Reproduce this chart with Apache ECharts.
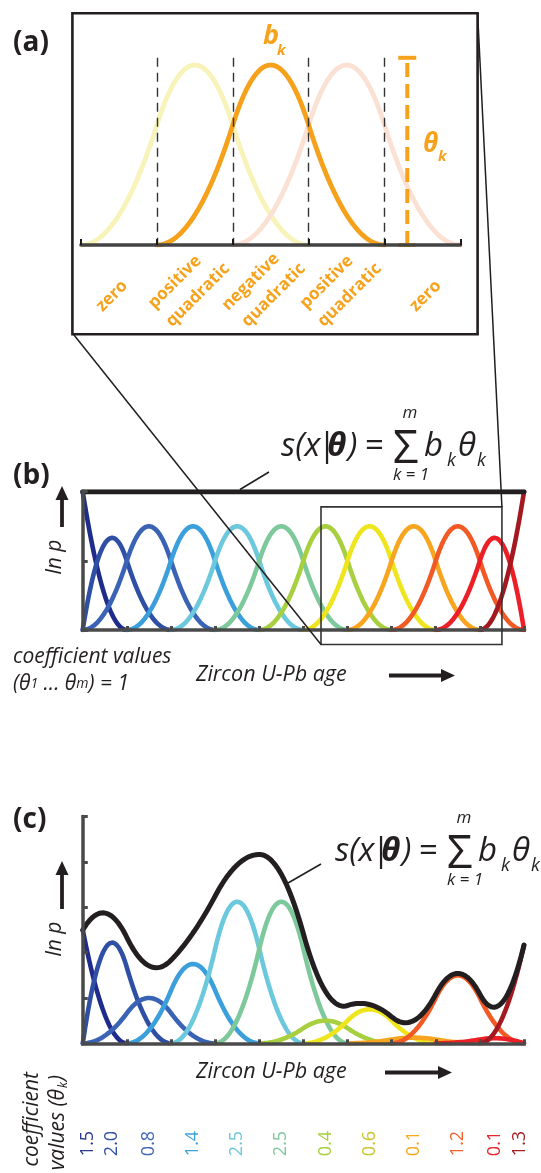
<!DOCTYPE html>
<html>
<head>
<meta charset="utf-8">
<script src="https://cdn.jsdelivr.net/npm/echarts@6/dist/echarts.min.js"></script>
<style>
html, body { margin: 0; padding: 0; background: #ffffff; }
#chart { width: 541px; height: 1173px; }
</style>
</head>
<body>
<div id="chart"></div>
<script>
// ---- data ---------------------------------------------------------------
// Knot positions along the age axis (10 equal intervals) and spline degree
const knotsAge = [0, 1, 2, 3, 4, 5, 6, 7, 8, 9, 10];
const splineDegree = 2;
// Detail view: one basis function and its two neighbours on uniform knots
const knotsDetail = [0, 1, 2, 3, 4, 5];
const segmentNames = [["zero"], ["positive", "quadratic"], ["negative", "quadratic"], ["positive", "quadratic"], ["zero"]];
// Coefficients: all equal to one (b), fitted values (c)
const thetaFlat = [1, 1, 1, 1, 1, 1, 1, 1, 1, 1, 1, 1];
const thetaFit = [1.5, 2.0, 0.8, 1.4, 2.5, 2.5, 0.4, 0.6, 0.1, 1.2, 0.1, 1.3];
const thetaLabels = ["1.5", "2.0", "0.8", "1.4", "2.5", "2.5", "0.4", "0.6", "0.1", "1.2", "0.1", "1.3"];
// Axis ranges / tick steps
const yTicksB = { max: 1, step: 0.5 };
const yTicksC = { max: 3, step: 0.6 };
// Height of the knot guides and the theta marker in the detail view
const guideHeight = 0.78;
const thetaMarkerAt = 4.3;

// ---- styles -------------------------------------------------------------
const basisColors = ["#1f2c8c", "#2f4fa4", "#3a63b6", "#3b9fdb", "#6cc8dc", "#7ec99b",
  "#a8cf40", "#efe51c", "#f7a51e", "#f15a24", "#ec1e26", "#a3191f"];
const labelColors = ["#2b3990", "#3150a0", "#3f66b3", "#3ea1da", "#6ec6dc", "#7fc89c",
  "#a6cf3d", "#c9c52a", "#f7a81f", "#f0642a", "#e8262c", "#a61e22"];
const detailColors = ["#f7f3b9", "#f6a11c", "#fbe1d3"];
const ORANGE = "#f6a21d";
const INK = "#231f20";
const AXIS = "#4a4a4a";
const FONT = "'Open Sans', 'Noto Sans', sans-serif";

// ---- B-spline basis (Cox-de Boor) --------------------------------------
function clamped(knots, p) {
  const a = knots[0], b = knots[knots.length - 1];
  return Array(p).fill(a).concat(knots, Array(p).fill(b));
}
function basis(t, i, p, x) {
  if (p === 0) {
    const last = t[t.length - 1];
    if (x === last) return (t[i] < x && t[i + 1] === last) ? 1 : 0;
    return (t[i] <= x && x < t[i + 1]) ? 1 : 0;
  }
  let v = 0;
  const d1 = t[i + p] - t[i], d2 = t[i + p + 1] - t[i + 1];
  if (d1 > 0) v += (x - t[i]) / d1 * basis(t, i, p - 1, x);
  if (d2 > 0) v += (t[i + p + 1] - x) / d2 * basis(t, i + 1, p - 1, x);
  return v;
}
function sampleGrid(lo, hi, n) {
  const xs = [];
  for (let j = 0; j <= n; j++) xs.push(lo + (hi - lo) * j / n);
  return xs;
}
// points of one weighted basis curve over its support
function basisCurve(t, i, p, xs, w) {
  return xs.filter(x => x >= t[i] && x <= t[i + p + 1]).map(x => [x, w * basis(t, i, p, x)]);
}
function sumCurve(t, p, xs, theta) {
  return xs.map(x => [x, theta.reduce((s, th, i) => s + th * basis(t, i, p, x), 0)]);
}

const tAge = clamped(knotsAge, splineDegree);
const xsAge = sampleGrid(knotsAge[0], knotsAge[knotsAge.length - 1], 800);
const tDet = knotsDetail;
const xsDet = sampleGrid(knotsDetail[0], knotsDetail[knotsDetail.length - 1], 500);

// ---- series -------------------------------------------------------------
const series = [];
function lineSeries(data, color, width, gi, z) {
  return { type: "line", data, xAxisIndex: gi, yAxisIndex: gi, showSymbol: false, symbol: "none",
    lineStyle: { color, width, cap: "round", join: "round" }, z: z || 2, silent: true, animation: false };
}
// (a) detail: neighbours first, highlighted basis on top
[0, 2, 1].forEach(i => series.push(lineSeries(basisCurve(tDet, i, splineDegree, xsDet, 1), detailColors[i], 4.8, 0)));
series.push({
  type: "line", xAxisIndex: 0, yAxisIndex: 0, data: [[thetaMarkerAt, 0], [thetaMarkerAt, guideHeight]],
  symbol: "rect", symbolSize: [18, 4], showAllSymbol: true, itemStyle: { color: ORANGE },
  lineStyle: { color: ORANGE, width: 4, type: [14, 7] }, z: 4, silent: true, animation: false
});
// (b) basis functions with unit coefficients and their sum
thetaFlat.forEach((th, i) => series.push(lineSeries(basisCurve(tAge, i, splineDegree, xsAge, th), basisColors[i], 4.6, 1)));
series.push(lineSeries(sumCurve(tAge, splineDegree, xsAge, thetaFlat), INK, 5, 1, 5));
// (c) scaled basis functions and the resulting density
thetaFit.forEach((th, i) => series.push(lineSeries(basisCurve(tAge, i, splineDegree, xsAge, th), basisColors[i], 4.6, 2)));
series.push(lineSeries(sumCurve(tAge, splineDegree, xsAge, thetaFit), INK, 5, 2, 5));

// ---- axes ---------------------------------------------------------------
function xAxisFor(gi, max, opts) {
  return Object.assign({
    type: "value", gridIndex: gi, min: 0, max, interval: 1, z: 10,
    axisLine: { show: true, onZero: false, lineStyle: { color: AXIS, width: 3.5, cap: "square" } },
    axisTick: { show: true, inside: true, length: 4, lineStyle: { color: AXIS, width: 3 } },
    axisLabel: { show: false }, splitLine: { show: false }
  }, opts || {});
}
function yAxisFor(gi, max, step, show) {
  return {
    type: "value", gridIndex: gi, min: 0, max, interval: step, z: 10,
    axisLine: { show, lineStyle: { color: AXIS, width: 3.5, cap: "square" } },
    axisTick: { show, inside: true, length: 5, lineStyle: { color: AXIS, width: 3 } },
    axisLabel: { show: false }, splitLine: { show: false }
  };
}

const chart = echarts.init(document.getElementById("chart"), null, { renderer: "canvas" });
chart.setOption({
  animation: false,
  backgroundColor: "#ffffff",
  grid: [
    { left: 81, top: 57.8, width: 379.4, height: 187.2 },
    { left: 82.7, top: 491.7, width: 441.3, height: 138.3 },
    { left: 82.8, top: 816.7, width: 441.2, height: 226.6 }
  ],
  xAxis: [
    xAxisFor(0, knotsDetail[knotsDetail.length - 1], {
      axisLine: { show: true, lineStyle: { color: "#444444", width: 3.5 } },
      axisTick: { show: true, inside: true, length: 6, lineStyle: { color: "#1a1a1a", width: 2 } },
      splitLine: { show: true, showMinLine: false, showMaxLine: false, lineStyle: { color: "#333333", width: 1.4, type: [9, 6] } }
    }),
    xAxisFor(1, knotsAge[knotsAge.length - 1]),
    xAxisFor(2, knotsAge[knotsAge.length - 1])
  ],
  yAxis: [
    { type: "value", gridIndex: 0, min: 0, max: guideHeight, show: false },
    yAxisFor(1, yTicksB.max, yTicksB.step, true),
    yAxisFor(2, yTicksC.max, yTicksC.step, true)
  ],
  series
});

// ---- annotations --------------------------------------------------------
const g = [];
function txt(text, x, y, o) {
  o = o || {};
  g.push({
    type: "text", x, y, rotation: o.rot || 0, z: 120,
    style: {
      text, fill: o.color || INK,
      font: (o.style || "normal") + " " + (o.weight || "normal") + " " + (o.size || 18) + "px " + (o.family || FONT),
      textAlign: o.align || "left", textVerticalAlign: o.valign || "middle",
      align: o.align || "left", verticalAlign: o.valign || "middle",
      rich: o.rich
    }
  });
}
function line(x1, y1, x2, y2, w, color) {
  g.push({ type: "line", z: 110, shape: { x1, y1, x2, y2 }, style: { stroke: color || INK, lineWidth: w } });
}
function arrow(x1, y1, x2, y2) {
  const L = Math.hypot(x2 - x1, y2 - y1), ux = (x2 - x1) / L, uy = (y2 - y1) / L;
  const hl = 14, hw = 6.5;
  const bx = x2 - ux * hl, by = y2 - uy * hl;
  line(x1, y1, bx + ux, by + uy, 3.8);
  g.push({ type: "polygon", z: 110, shape: { points: [[x2, y2], [bx - uy * hw, by + ux * hw], [bx + uy * hw, by - ux * hw]] }, style: { fill: INK } });
}
function formula(x0, yc) {
  // s(x|θ) = Σ b_k θ_k with summation limits
  txt("s(x", x0, yc, { style: "italic", size: 33 });
  txt("|", x0 + 37, yc, { size: 33 });
  txt("θ", x0 + 46, yc, { style: "italic", weight: "bold", size: 33 });
  txt(")", x0 + 67, yc, { style: "italic", size: 33 });
  txt("=", x0 + 84, yc, { size: 33 });
  txt("Σ", x0 + 112, yc + 3, { size: 45 });
  txt("m", x0 + 129, yc - 34, { style: "italic", size: 17, align: "center" });
  txt("k = 1", x0 + 130, yc + 28, { style: "italic", size: 17, align: "center" });
  txt("b", x0 + 143, yc, { style: "italic", size: 33 });
  txt("k", x0 + 166, yc + 14, { style: "italic", size: 18 });
  txt("θ", x0 + 177, yc, { style: "italic", size: 33 });
  txt("k", x0 + 196, yc + 14, { style: "italic", size: 18 });
}
const px = (gi, x, y) => chart.convertToPixel({ gridIndex: gi }, [x, y]);

// panel labels
txt("(a)", 13, 43, { weight: "bold", size: 28 });
txt("(b)", 13, 476, { weight: "bold", size: 28 });
txt("(c)", 13, 820, { weight: "bold", size: 28 });

// (a) frame and annotations
const box = { x1: 72.4, y1: 13.3, x2: 477.6, y2: 334.3 };
g.push({ type: "rect", z: 100, shape: { x: box.x1, y: box.y1, width: box.x2 - box.x1, height: box.y2 - box.y1 },
  style: { fill: "none", stroke: INK, lineWidth: 2.6 } });
txt("b", 263, 36, { style: "italic", weight: "bold", size: 27, color: ORANGE });
txt("k", 277, 51, { style: "italic", weight: "bold", size: 15, color: ORANGE });
txt("θ", 423, 145, { style: "italic", weight: "bold", size: 26, color: ORANGE });
txt("k", 438, 157, { style: "italic", weight: "bold", size: 15, color: ORANGE });
segmentNames.forEach((names, s) => {
  const c = px(0, s + 0.5, 0);
  const rot = Math.PI / 4;
  const o = { weight: "bold", size: 17, color: ORANGE, rot, align: "center" };
  if (names.length === 1) {
    txt(names[0], c[0] - (s === 0 ? 7 : -3), 296, o);
  } else {
    txt(names[0], c[0] - 20, 282, o);
    txt(names[1], c[0] + 3, 295, o);
  }
});

// (b) zoom frame and connectors to the detail box
const zA = px(1, 5.4, -0.105), zB = px(1, 9.5, 0.89);
g.push({ type: "rect", z: 100, shape: { x: zA[0], y: zB[1], width: zB[0] - zA[0], height: zA[1] - zB[1] },
  style: { fill: "none", stroke: "#333333", lineWidth: 1.6 } });
line(box.x1 + 1, box.y2, zA[0], zA[1], 1.5);
line(box.x2, box.y1, zB[0], zB[1], 1.5);

// (b) texts
formula(281, 447);
line(269, 472, 240, 489.5, 1.6);
arrow(62, 527, 62, 486);
txt("ln p", 55, 557, { style: "italic", size: 21, rot: Math.PI / 2, align: "center" });
txt("coefficient values", 13, 657, { style: "italic", size: 21 });
txt("{a|(θ}{s|1}{a| ... θ}{s|m}{a|) = 1}", 13, 684, { style: "italic", size: 21,
  rich: { a: { font: "italic 21px " + FONT, fill: INK }, s: { font: "italic 14px " + FONT, fill: INK } } });
txt("Zircon U-Pb age", 196, 675, { style: "italic", size: 21.5 });
arrow(389, 675.5, 455, 675.5);

// (c) texts
formula(335, 852);
line(321, 864, 288, 883, 1.6);
arrow(62, 909, 62, 861);
txt("ln p", 55, 939, { style: "italic", size: 21, rot: Math.PI / 2, align: "center" });
txt("Zircon U-Pb age", 196, 1072, { style: "italic", size: 21.5 });
arrow(385, 1072.5, 452, 1072.5);
txt("coefficient", 32, 1072, { style: "italic", size: 21, rot: Math.PI / 2, align: "right" });
txt("values (θ", 58, 1089, { style: "italic", size: 21, rot: Math.PI / 2, align: "right" });
txt("k", 64, 1085, { style: "italic", size: 12, rot: Math.PI / 2, align: "center" });
txt(")", 58, 1078, { style: "italic", size: 21, rot: Math.PI / 2, align: "center" });

// coefficient values under each basis function, at its peak
thetaFit.forEach((th, i) => {
  let best = 0, bx = 0;
  xsAge.forEach(x => { const v = basis(tAge, i, splineDegree, x); if (v > best) { best = v; bx = x; } });
  bx = Math.min(Math.max(bx, 0.12), 9.9);
  const p = px(2, bx, 0);
  txt(thetaLabels[i], p[0], 1143.5, { size: 18, color: labelColors[i], rot: Math.PI / 2, align: "center" });
});

chart.setOption({ graphic: { elements: g } });
</script>
</body>
</html>
